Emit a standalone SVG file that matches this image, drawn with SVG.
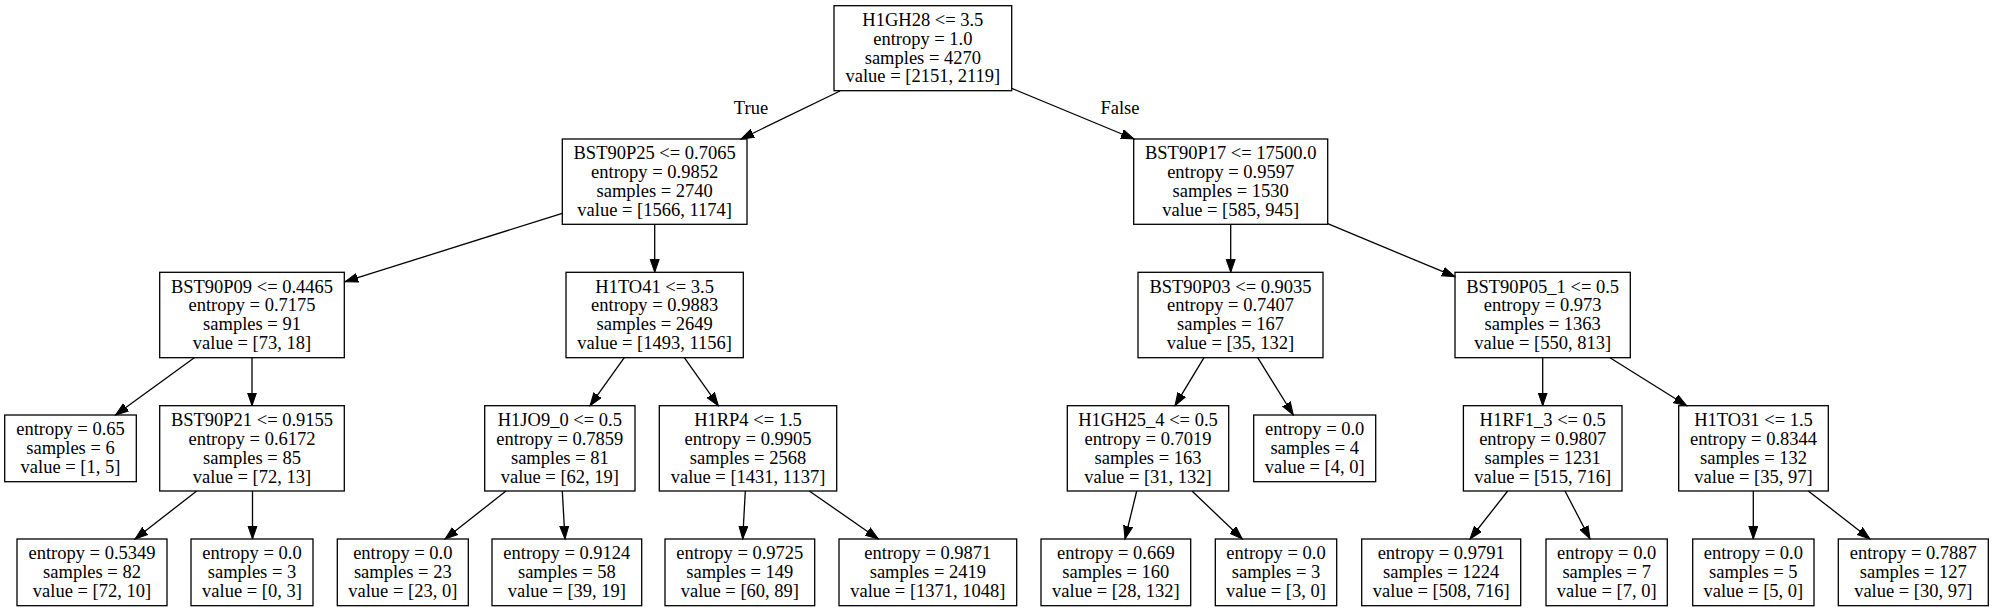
<svg xmlns="http://www.w3.org/2000/svg" width="1994" height="611" viewBox="0 0 1994 611">
<style>
.n rect{fill:none;stroke:#000;stroke-width:1.3}
text{font-family:"Liberation Serif","Times New Roman",serif;font-size:18.5px;text-anchor:middle;fill:#000}
.e line{stroke:#000;stroke-width:1.3;marker-end:url(#ah)}
</style>
<defs>
<marker id="ah" markerUnits="userSpaceOnUse" markerWidth="16" markerHeight="12" refX="13" refY="5" orient="auto" viewBox="0 0 16 12">
<path d="M0,0.5 L13,5 L0,9.5 z" fill="#000" stroke="#000" stroke-width="1"/>
</marker>
</defs>
<rect x="0" y="0" width="1994" height="611" fill="#fff"/>
<g id="edges" class="e">
<line x1="840" y1="91" x2="741" y2="139"/>
<line x1="1011.7" y1="88.3" x2="1134" y2="139"/>
<line x1="562.3" y1="213.3" x2="345" y2="281.7"/>
<line x1="654.7" y1="224.3" x2="654.7" y2="272.3"/>
<line x1="1230.7" y1="224.3" x2="1230.7" y2="272.3"/>
<line x1="1327.7" y1="223.7" x2="1455" y2="276.7"/>
<line x1="194.3" y1="357.7" x2="115.5" y2="415"/>
<line x1="252" y1="357.7" x2="252" y2="405.7"/>
<line x1="624.3" y1="357.7" x2="590" y2="405.7"/>
<line x1="684.3" y1="357.7" x2="718.3" y2="405.7"/>
<line x1="1204" y1="357.7" x2="1175" y2="405.7"/>
<line x1="1257.7" y1="357.7" x2="1293.3" y2="415"/>
<line x1="1542.7" y1="357.7" x2="1542.7" y2="405.7"/>
<line x1="1610" y1="357.7" x2="1686.7" y2="405.7"/>
<line x1="196.7" y1="491" x2="135" y2="539"/>
<line x1="252.5" y1="491" x2="252.5" y2="539"/>
<line x1="506" y1="491" x2="445" y2="539"/>
<line x1="562.3" y1="491" x2="565" y2="539"/>
<line x1="745.3" y1="491" x2="742.7" y2="539"/>
<line x1="809.3" y1="491" x2="878.3" y2="539"/>
<line x1="1136.7" y1="491" x2="1125" y2="539"/>
<line x1="1192" y1="491" x2="1242.3" y2="539"/>
<line x1="1507.7" y1="491" x2="1470" y2="539"/>
<line x1="1565" y1="491" x2="1590" y2="539"/>
<line x1="1753.3" y1="491" x2="1753.3" y2="539"/>
<line x1="1808.3" y1="491" x2="1870" y2="539"/>
<text x="751" y="113.5">True</text>
<text x="1120" y="113.5">False</text>
</g>
<g id="n0" class="n"><rect x="834" y="5.7" width="177.7" height="85"/>
<text x="922.85" y="25.7">H1GH28 &lt;= 3.5</text><text x="922.85" y="44.6">entropy = 1.0</text><text x="922.85" y="63.5">samples = 4270</text><text x="922.85" y="82.4">value = [2151, 2119]</text></g>
<g id="n1" class="n"><rect x="562.3" y="139" width="184.7" height="85.3"/>
<text x="654.65" y="159.2">BST90P25 &lt;= 0.7065</text><text x="654.65" y="178.1">entropy = 0.9852</text><text x="654.65" y="197">samples = 2740</text><text x="654.65" y="215.9">value = [1566, 1174]</text></g>
<g id="n16" class="n"><rect x="1133.7" y="139" width="194" height="85.3"/>
<text x="1230.7" y="159.2">BST90P17 &lt;= 17500.0</text><text x="1230.7" y="178.1">entropy = 0.9597</text><text x="1230.7" y="197">samples = 1530</text><text x="1230.7" y="215.9">value = [585, 945]</text></g>
<g id="n2" class="n"><rect x="159.7" y="272.3" width="184.6" height="85.4"/>
<text x="252" y="292.5">BST90P09 &lt;= 0.4465</text><text x="252" y="311.4">entropy = 0.7175</text><text x="252" y="330.3">samples = 91</text><text x="252" y="349.2">value = [73, 18]</text></g>
<g id="n7" class="n"><rect x="566" y="272.3" width="177.3" height="85.4"/>
<text x="654.65" y="292.5">H1TO41 &lt;= 3.5</text><text x="654.65" y="311.4">entropy = 0.9883</text><text x="654.65" y="330.3">samples = 2649</text><text x="654.65" y="349.2">value = [1493, 1156]</text></g>
<g id="n17" class="n"><rect x="1138" y="272.3" width="185" height="85.4"/>
<text x="1230.5" y="292.5">BST90P03 &lt;= 0.9035</text><text x="1230.5" y="311.4">entropy = 0.7407</text><text x="1230.5" y="330.3">samples = 167</text><text x="1230.5" y="349.2">value = [35, 132]</text></g>
<g id="n22" class="n"><rect x="1455" y="272.3" width="175.3" height="85.4"/>
<text x="1542.65" y="292.5">BST90P05_1 &lt;= 0.5</text><text x="1542.65" y="311.4">entropy = 0.973</text><text x="1542.65" y="330.3">samples = 1363</text><text x="1542.65" y="349.2">value = [550, 813]</text></g>
<g id="n3" class="n"><rect x="4.7" y="415" width="131.6" height="66.7"/>
<text x="70.5" y="435.4">entropy = 0.65</text><text x="70.5" y="454.3">samples = 6</text><text x="70.5" y="473.2">value = [1, 5]</text></g>
<g id="n4" class="n"><rect x="159.7" y="405.7" width="184.6" height="85.3"/>
<text x="252" y="425.9">BST90P21 &lt;= 0.9155</text><text x="252" y="444.8">entropy = 0.6172</text><text x="252" y="463.7">samples = 85</text><text x="252" y="482.6">value = [72, 13]</text></g>
<g id="n8" class="n"><rect x="484.7" y="405.7" width="150.3" height="85.3"/>
<text x="559.85" y="425.9">H1JO9_0 &lt;= 0.5</text><text x="559.85" y="444.8">entropy = 0.7859</text><text x="559.85" y="463.7">samples = 81</text><text x="559.85" y="482.6">value = [62, 19]</text></g>
<g id="n11" class="n"><rect x="659.3" y="405.7" width="177.4" height="85.3"/>
<text x="748" y="425.9">H1RP4 &lt;= 1.5</text><text x="748" y="444.8">entropy = 0.9905</text><text x="748" y="463.7">samples = 2568</text><text x="748" y="482.6">value = [1431, 1137]</text></g>
<g id="n18" class="n"><rect x="1067.3" y="405.7" width="161.4" height="85.3"/>
<text x="1148" y="425.9">H1GH25_4 &lt;= 0.5</text><text x="1148" y="444.8">entropy = 0.7019</text><text x="1148" y="463.7">samples = 163</text><text x="1148" y="482.6">value = [31, 132]</text></g>
<g id="n21" class="n"><rect x="1253.7" y="415" width="122" height="66.7"/>
<text x="1314.7" y="435.4">entropy = 0.0</text><text x="1314.7" y="454.3">samples = 4</text><text x="1314.7" y="473.2">value = [4, 0]</text></g>
<g id="n23" class="n"><rect x="1463.4" y="405.7" width="158.6" height="85.3"/>
<text x="1542.7" y="425.9">H1RF1_3 &lt;= 0.5</text><text x="1542.7" y="444.8">entropy = 0.9807</text><text x="1542.7" y="463.7">samples = 1231</text><text x="1542.7" y="482.6">value = [515, 716]</text></g>
<g id="n26" class="n"><rect x="1678.7" y="405.7" width="149.6" height="85.3"/>
<text x="1753.5" y="425.9">H1TO31 &lt;= 1.5</text><text x="1753.5" y="444.8">entropy = 0.8344</text><text x="1753.5" y="463.7">samples = 132</text><text x="1753.5" y="482.6">value = [35, 97]</text></g>
<g id="n5" class="n"><rect x="17" y="539" width="150" height="66.7"/>
<text x="92" y="559.4">entropy = 0.5349</text><text x="92" y="578.3">samples = 82</text><text x="92" y="597.2">value = [72, 10]</text></g>
<g id="n6" class="n"><rect x="191" y="539" width="122" height="66.7"/>
<text x="252" y="559.4">entropy = 0.0</text><text x="252" y="578.3">samples = 3</text><text x="252" y="597.2">value = [0, 3]</text></g>
<g id="n9" class="n"><rect x="337.3" y="539" width="131" height="66.7"/>
<text x="402.8" y="559.4">entropy = 0.0</text><text x="402.8" y="578.3">samples = 23</text><text x="402.8" y="597.2">value = [23, 0]</text></g>
<g id="n10" class="n"><rect x="492" y="539" width="149.7" height="66.7"/>
<text x="566.85" y="559.4">entropy = 0.9124</text><text x="566.85" y="578.3">samples = 58</text><text x="566.85" y="597.2">value = [39, 19]</text></g>
<g id="n12" class="n"><rect x="665" y="539" width="149.7" height="66.7"/>
<text x="739.85" y="559.4">entropy = 0.9725</text><text x="739.85" y="578.3">samples = 149</text><text x="739.85" y="597.2">value = [60, 89]</text></g>
<g id="n13" class="n"><rect x="839" y="539" width="177.7" height="66.7"/>
<text x="927.85" y="559.4">entropy = 0.9871</text><text x="927.85" y="578.3">samples = 2419</text><text x="927.85" y="597.2">value = [1371, 1048]</text></g>
<g id="n19" class="n"><rect x="1041" y="539" width="149.7" height="66.7"/>
<text x="1115.85" y="559.4">entropy = 0.669</text><text x="1115.85" y="578.3">samples = 160</text><text x="1115.85" y="597.2">value = [28, 132]</text></g>
<g id="n20" class="n"><rect x="1215.3" y="539" width="121.4" height="66.7"/>
<text x="1276" y="559.4">entropy = 0.0</text><text x="1276" y="578.3">samples = 3</text><text x="1276" y="597.2">value = [3, 0]</text></g>
<g id="n24" class="n"><rect x="1361.7" y="539" width="159" height="66.7"/>
<text x="1441.2" y="559.4">entropy = 0.9791</text><text x="1441.2" y="578.3">samples = 1224</text><text x="1441.2" y="597.2">value = [508, 716]</text></g>
<g id="n25" class="n"><rect x="1546" y="539" width="121.3" height="66.7"/>
<text x="1606.65" y="559.4">entropy = 0.0</text><text x="1606.65" y="578.3">samples = 7</text><text x="1606.65" y="597.2">value = [7, 0]</text></g>
<g id="n27" class="n"><rect x="1692.7" y="539" width="121.3" height="66.7"/>
<text x="1753.35" y="559.4">entropy = 0.0</text><text x="1753.35" y="578.3">samples = 5</text><text x="1753.35" y="597.2">value = [5, 0]</text></g>
<g id="n28" class="n"><rect x="1838.3" y="539" width="150" height="66.7"/>
<text x="1913.3" y="559.4">entropy = 0.7887</text><text x="1913.3" y="578.3">samples = 127</text><text x="1913.3" y="597.2">value = [30, 97]</text></g>
</svg>
